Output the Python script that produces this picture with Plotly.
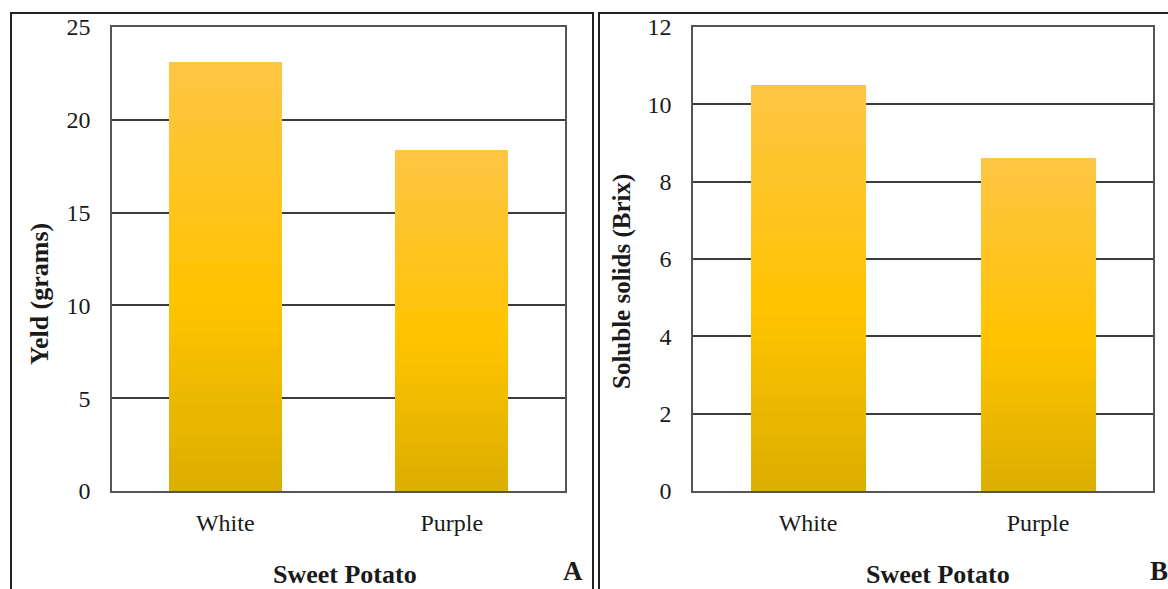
import plotly.graph_objects as go

# ---- data ----
categories = ["White", "Purple"]
yield_grams = [23.1, 18.35]
soluble_solids_brix = [10.5, 8.6]
yield_ticks = [0, 5, 10, 15, 20, 25]
brix_ticks = [0, 2, 4, 6, 8, 10, 12]

W, H = 1168, 589
FONT = "Liberation Serif"

def px(x):
    return x / W

def py(y):
    return 1 - y / H

# gradient stops (fraction of bar height -> colour)
stops = [(0.0, (0xDC, 0xAE, 0x00)), (0.45, (0xFF, 0xC4, 0x00)), (1.0, (0xFE, 0xC5, 0x45))]

def colour_at(t):
    for (t0, c0), (t1, c1) in zip(stops[:-1], stops[1:]):
        if t0 <= t <= t1:
            f = (t - t0) / (t1 - t0)
            return "rgb(%d,%d,%d)" % tuple(round(a + (b - a) * f) for a, b in zip(c0, c1))
    return "rgb(%d,%d,%d)" % stops[-1][1]

NSEG = 30
fig = go.Figure()
for vals, xa, ya in [(yield_grams, "x", "y"), (soluble_solids_brix, "x2", "y2")]:
    for k in range(NSEG):
        t = (k + 0.5) / NSEG
        fig.add_trace(go.Bar(
            x=categories, y=[v / NSEG for v in vals], xaxis=xa, yaxis=ya,
            marker=dict(color=colour_at(t), line=dict(width=0)),
            width=0.5, showlegend=False, hoverinfo="skip",
        ))

axis_common = dict(
    showline=True, mirror=True, linecolor="#555555", linewidth=1.5, automargin=False,
    ticks="", tickfont=dict(family=FONT, size=24, color="#1a1a1a"),
)
ydom = [py(491), py(27)]
fig.update_layout(
    template="none",
    width=W, height=H, margin=dict(l=0, r=0, t=0, b=0, autoexpand=False),
    paper_bgcolor="white", plot_bgcolor="white", barmode="stack", bargap=0.5,
    xaxis=dict(domain=[px(112), px(565)], anchor="y", showgrid=False,
               ticklabelstandoff=9, **axis_common),
    yaxis=dict(domain=ydom, anchor="x", range=[0, 25], tickvals=yield_ticks,
               showgrid=True, gridcolor="#3c3c3c", gridwidth=1.8, zeroline=False,
               ticklabelstandoff=15, **axis_common),
    xaxis2=dict(domain=[px(693), px(1153)], anchor="y2", showgrid=False,
                ticklabelstandoff=9, **axis_common),
    yaxis2=dict(domain=ydom, anchor="x2", range=[0, 12], tickvals=brix_ticks,
                showgrid=True, gridcolor="#3c3c3c", gridwidth=1.8, zeroline=False,
                ticklabelstandoff=15, **axis_common),
    shapes=[
        dict(type="rect", xref="paper", yref="paper", x0=px(11), x1=px(593), y0=-0.1, y1=py(13),
             line=dict(color="#222222", width=2), layer="below"),
        dict(type="rect", xref="paper", yref="paper", x0=px(599), x1=1.1, y0=-0.1, y1=py(13),
             line=dict(color="#222222", width=2), layer="below"),
    ],
    annotations=[
        dict(text="<b>Yeld (grams)</b>", x=px(39), y=py(294), xref="paper", yref="paper",
             xanchor="center", yanchor="middle",
             textangle=-90, showarrow=False, font=dict(family=FONT, size=26, color="#1a1a1a")),
        dict(text="<b>Soluble solids (Brix)</b>", x=px(622), y=py(282), xref="paper", yref="paper",
             xanchor="center", yanchor="middle",
             textangle=-90, showarrow=False, font=dict(family=FONT, size=25, color="#1a1a1a")),
        dict(text="<b>Sweet Potato</b>", x=px(345), y=py(574), xref="paper", yref="paper",
             xanchor="center", yanchor="middle",
             showarrow=False, font=dict(family=FONT, size=26, color="#1a1a1a")),
        dict(text="<b>Sweet Potato</b>", x=px(938), y=py(574), xref="paper", yref="paper",
             xanchor="center", yanchor="middle",
             showarrow=False, font=dict(family=FONT, size=26, color="#1a1a1a")),
        dict(text="<b>A</b>", x=px(573), y=py(571), xref="paper", yref="paper",
             xanchor="center", yanchor="middle",
             showarrow=False, font=dict(family=FONT, size=27, color="#1a1a1a")),
        dict(text="<b>B</b>", x=px(1148), y=py(571), xref="paper", yref="paper",
             xanchor="left", yanchor="middle",
             showarrow=False, font=dict(family=FONT, size=27, color="#1a1a1a")),
    ],
)

fig.write_html("out.html", config={"displayModeBar": False},
               post_script="document.body.style.margin='0';document.body.style.overflow='hidden';")
